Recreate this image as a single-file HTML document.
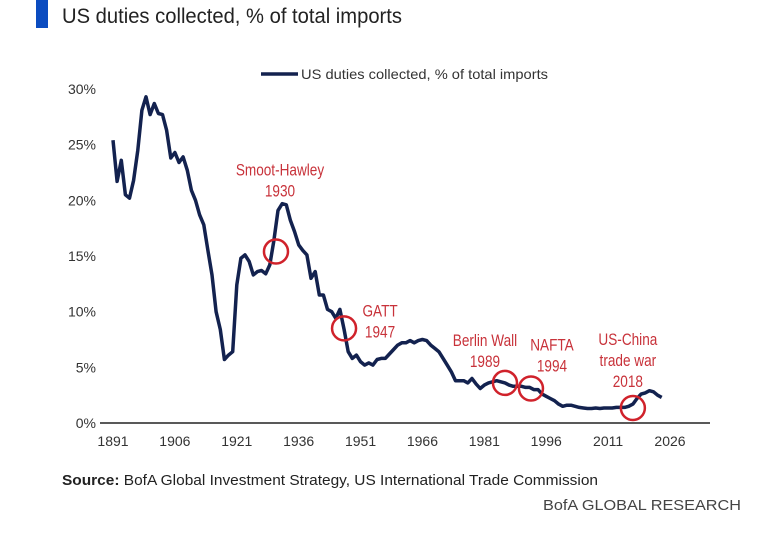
<!DOCTYPE html>
<html><head><meta charset="utf-8"><style>
html,body{margin:0;padding:0;background:#fff;}
svg{display:block;font-family:"Liberation Sans Narrow","Liberation Sans",sans-serif;}
</style></head><body>
<svg id="chart" width="773" height="535" viewBox="0 0 773 535">
<rect x="36" y="0" width="12" height="28" fill="#0b4cc0"/>
<text x="62" y="23" font-size="21" fill="#222" textLength="340" lengthAdjust="spacingAndGlyphs">US duties collected, % of total imports</text>
<g>
<line x1="261" y1="74" x2="298" y2="74" stroke="#13224f" stroke-width="3.5"/>
<text x="301" y="79" font-size="14" fill="#333" textLength="247" lengthAdjust="spacingAndGlyphs">US duties collected, % of total imports</text>
</g>
<g id="yticks"></g>
<g id="xticks"></g>
<line x1="100" y1="423" x2="710" y2="423" stroke="#222" stroke-width="1.5"/>
<path id="series" fill="none" stroke="#13224f" stroke-width="3.5" stroke-linejoin="round"/>
<g id="annos"></g>
<text x="62" y="485" font-size="15" fill="#222" textLength="536" lengthAdjust="spacingAndGlyphs"><tspan font-weight="bold">Source:</tspan> BofA Global Investment Strategy, US International Trade Commission</text>
<text x="543" y="510" font-size="15" fill="#444" textLength="198" lengthAdjust="spacingAndGlyphs">BofA GLOBAL RESEARCH</text>
</svg>
<script>
const startYear = 1891;
const values = [25.4,21.7,23.6,20.5,20.2,21.8,24.5,28.1,29.3,27.7,28.7,27.8,27.7,26.3,23.8,24.3,23.4,23.9,22.7,20.9,20.0,18.7,17.8,15.5,13.3,10.0,8.4,5.7,6.1,6.4,12.4,14.8,15.1,14.5,13.3,13.6,13.7,13.4,14.2,16.4,19.1,19.7,19.6,18.2,17.2,16.0,15.5,15.1,13.0,13.6,11.5,11.5,10.2,10.0,9.4,10.2,8.4,6.4,5.8,6.1,5.5,5.2,5.4,5.2,5.7,5.8,5.8,6.2,6.6,7.0,7.2,7.2,7.4,7.2,7.4,7.5,7.4,7.0,6.7,6.4,5.8,5.2,4.6,3.8,3.8,3.8,3.6,4.0,3.5,3.1,3.4,3.6,3.7,3.8,3.7,3.6,3.4,3.3,3.3,3.3,3.2,3.2,3.0,3.0,2.6,2.4,2.2,2.0,1.7,1.5,1.6,1.6,1.5,1.4,1.35,1.3,1.3,1.35,1.3,1.35,1.35,1.35,1.4,1.4,1.4,1.5,1.7,2.2,2.6,2.7,2.9,2.8,2.5,2.3];
const xTickLabels = [1891,1906,1921,1936,1951,1966,1981,1996,2011,2026];
const yTickLabels = [0,5,10,15,20,25,30];
const annoYears = [1930.5,1947,1986,1992.3,2017];
const annoValues = [15.4,8.5,3.6,3.1,1.35];
const annoText = [["Smoot-Hawley","1930"],["GATT","1947"],["Berlin Wall","1989"],["NAFTA","1994"],["US-China","trade war","2018"]];

const NS="http://www.w3.org/2000/svg";
const xS = y => 113 + (y-1891)*(557/135);
const yS = v => 423 - v*(334/30);
function mk(tag, attrs, parent){const e=document.createElementNS(NS,tag);for(const k in attrs)e.setAttribute(k,attrs[k]);parent.appendChild(e);return e;}

const yg=document.getElementById('yticks');
yTickLabels.forEach(v=>{const t=mk('text',{x:96,y:yS(v)+5,'text-anchor':'end','font-size':14,fill:'#333'},yg);t.textContent=v+'%';

});
const xg=document.getElementById('xticks');
xTickLabels.forEach(v=>{const t=mk('text',{x:xS(v),y:446,'text-anchor':'middle','font-size':14,fill:'#333'},xg);t.textContent=v;

});

document.getElementById('series').setAttribute('d',values.map((v,i)=>(i?'L':'M')+xS(startYear+i).toFixed(1)+','+yS(v).toFixed(1)).join(''));

const ag=document.getElementById('annos');
const labelOff=[[4,-76],[36,-12],[-20,-37],[21,-38],[-5,-63]];
annoYears.forEach((yr,i)=>{
  const cx=xS(yr), cy=yS(annoValues[i]);
  const c=mk('circle',{cx:cx,cy:cy,r:12,fill:'none',stroke:'#d0222b','stroke-width':2.5},ag);
  
  
  const lines=annoText[i];
  const lx=cx+labelOff[i][0], ly=cy+labelOff[i][1];
  const t=mk('text',{x:0,y:0,transform:'translate('+lx+','+ly+') scale(0.8,1)','text-anchor':'middle','font-size':17,fill:'#c8323a'},ag);
  
  
  lines.forEach((s,j)=>{const ts=mk('tspan',{x:0,dy:j?21:0},t);ts.textContent=s;});
});
</script>
</body></html>
